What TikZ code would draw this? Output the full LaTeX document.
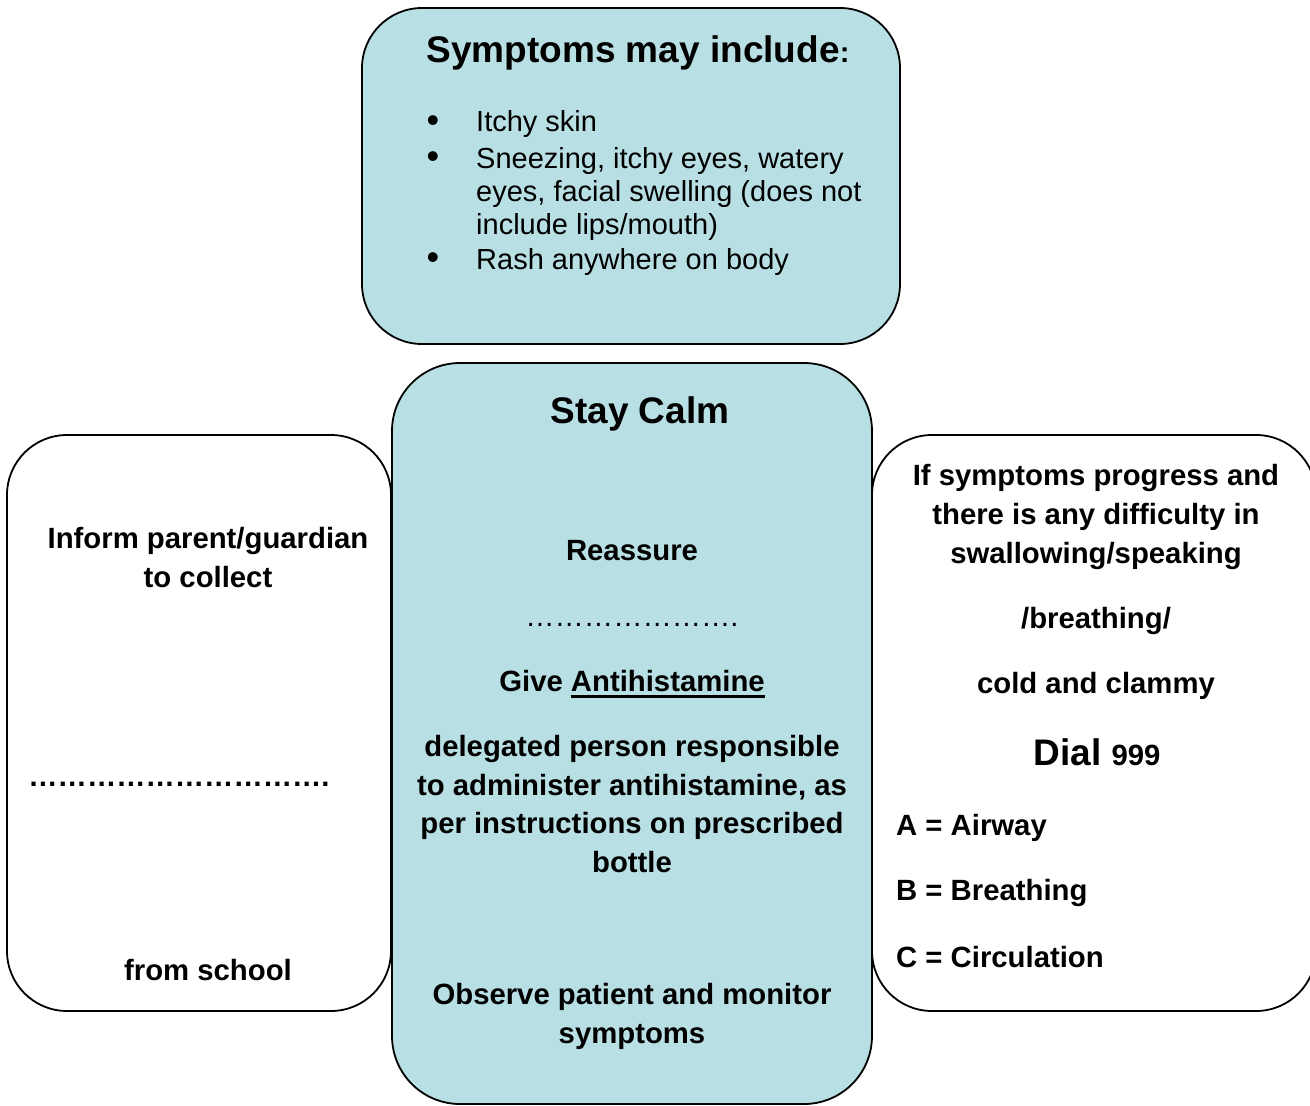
\documentclass[tikz,border=0pt]{standalone}
\usepackage{fontspec}
\setmainfont{Liberation Sans}

\definecolor{calmblue}{RGB}{184,223,227}

% thick underline as in the handout
\newcommand{\antiul}[1]{\setbox0\hbox{#1}\rlap{\rule[-7pt]{\wd0}{3pt}}\box0}

\begin{document}
\begin{tikzpicture}[
    x=1pt, y=-1pt,
    panel/.style={
      rectangle,
      rounded corners=60pt,
      draw=black,
      line width=1.8pt,
      inner sep=0pt
    },
    heading/.style={
      font=\bfseries\fontsize{37}{44}\selectfont,
      anchor=base,
      inner sep=0pt
    },
    advice/.style={
      font=\bfseries\fontsize{29.3}{38.5}\selectfont,
      align=center,
      anchor=base,
      inner sep=0pt
    },
    symptom/.style={
      font=\fontsize{29}{33}\selectfont,
      align=left,
      anchor=base west,
      inner sep=0pt
    },
    bullet/.style={
      font=\fontsize{36}{36}\selectfont,
      anchor=base,
      inner sep=0pt
    }
  ]

    \useasboundingbox (0,0) rectangle (1310,1106);
    \clip (0,0) rectangle (1310,1106);

    % Side boxes
    \node (parent) [panel, minimum width=384pt, minimum height=576pt] at (199,723) {};
    \node (emergency) [panel, minimum width=444pt, minimum height=576pt] at (1094,723) {};

    % Middle box
    \node (calm) [panel, fill=calmblue, rounded corners=68pt, minimum width=480pt, minimum height=741pt] at (632,733.5) {};

    % Top box
    \node (symptoms) [panel, fill=calmblue, minimum width=538pt, minimum height=336pt] at (631,176) {};

    % Top box: symptom list (multi-line nodes sit on their last line)
    \node (symtitle) [heading] at (638,62) {Symptoms may include{\fontsize{29}{33}\selectfont:}};
    \node (dot1) [bullet] at (433,132) {•};
    \node (dot2) [bullet] at (433,168) {•};
    \node (dot3) [bullet] at (433,269) {•};
    \node (itchy) [symptom] at (476,131) {Itchy skin};
    \node (sneeze) [symptom] at (476,234) {Sneezing, itchy eyes, watery\\eyes, facial swelling (does not\\include lips/mouth)};
    \node (rash) [symptom] at (476,269) {Rash anywhere on body};

    % Middle box: steps
    \node (stay) [heading] at (640,423) {Stay Calm};
    \node (reassure) [advice] at (632,560) {Reassure};
    \node (gap) [advice, font=\fontsize{29.3}{38}\selectfont] at (632,626) {\foreach \i in {1,...,7}{…}.};
    \node (give) [advice] at (632,691) {Give \antiul{Antihistamine}};
    \node (delegate) [advice] at (632,872) {delegated person responsible\\to administer antihistamine, as\\per instructions on prescribed\\bottle};
    \node (observe) [advice] at (632,1043) {Observe patient and monitor\\symptoms};

    % Left box
    \node (inform) [advice] at (208,587) {Inform parent/guardian\\to collect};
    \node (blank) [advice] at (179,786) {\foreach \i in {1,...,10}{…}.};
    \node (school) [advice] at (208,980) {from school};

    % Right box
    \node (progress) [advice, font=\bfseries\fontsize{29.3}{39}\selectfont] at (1096,563) {If symptoms progress and\\there is any difficulty in\\swallowing/speaking};
    \node (breath) [advice] at (1096,628) {/breathing/};
    \node (clammy) [advice] at (1096,693) {cold and clammy};
    \node (dial) [heading] at (1097,765) {Dial {\fontsize{29.3}{38}\selectfont 999}};
    \node (airway) [advice, anchor=base west] at (896,835) {A = Airway};
    \node (breathing) [advice, anchor=base west] at (896,900) {B = Breathing};
    \node (circulation) [advice, anchor=base west] at (896,967) {C = Circulation};

  \end{tikzpicture}
\end{document}
